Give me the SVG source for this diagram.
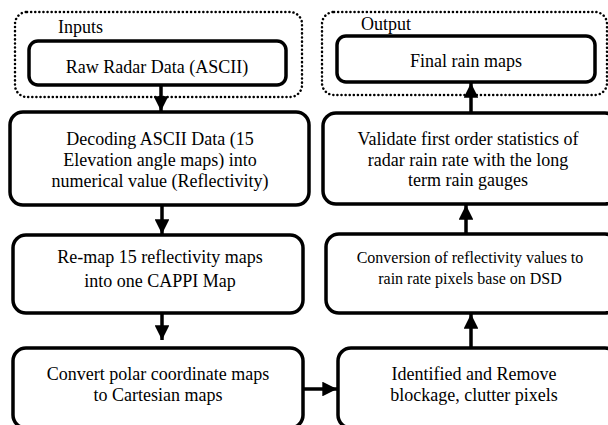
<svg xmlns="http://www.w3.org/2000/svg" width="608" height="425" viewBox="0 0 608 425">
<defs>
<style>
.grp{fill:none;stroke:#000;stroke-width:2.5;stroke-dasharray:0.1 4;stroke-linecap:round}
.box{fill:#fff;stroke:#000;stroke-width:3.5}
text{font-family:'Liberation Serif','DejaVu Serif',serif;font-size:18px;fill:#000}
.t{text-anchor:middle}
.s{font-size:16px}
.c{fill:none;stroke:#000;stroke-width:3.5}
</style>
<marker id="ah" viewBox="0 0 10 10" refX="10" refY="5" markerWidth="4.4" markerHeight="4.2" orient="auto" markerUnits="strokeWidth">
<path d="M0,0 L10,5 L0,10 z" fill="#000"/>
</marker>
</defs>
<g id="inputs-group">
<rect class="grp" x="15" y="12" width="287" height="85" rx="12"/>
<text font-family="Liberation Serif, serif" x="58" y="33">Inputs</text>
</g>
<g id="output-group">
<rect class="grp" x="322" y="12" width="285" height="83" rx="12"/>
<text font-family="Liberation Serif, serif" x="361" y="30">Output</text>
</g>
<g id="raw">
<rect class="box" x="29" y="41" width="257" height="44" rx="9"/>
<text class="t" font-family="Liberation Serif, serif" x="157" y="73">Raw Radar Data (ASCII)</text>
</g>
<g id="final">
<rect class="box" x="337" y="36" width="258" height="46" rx="9"/>
<text class="t" font-family="Liberation Serif, serif" x="466" y="67">Final rain maps</text>
</g>
<g id="decoding" font-family="Liberation Serif, serif">
<rect class="box" x="10" y="112" width="299" height="93" rx="13"/>
<text class="t" x="160" y="145">Decoding ASCII Data (15</text>
<text class="t" x="160" y="166">Elevation angle maps) into</text>
<text class="t" x="160" y="187">numerical value (Reflectivity)</text>
</g>
<g id="validate">
<rect class="box" x="323" y="113" width="295" height="91" rx="13"/>
<text class="t" x="468" y="145">Validate first order statistics of</text>
<text class="t" x="468" y="166">radar rain rate with the long</text>
<text class="t" x="468" y="186">term rain gauges</text>
</g>
<g id="remap">
<rect class="box" x="13" y="235" width="290" height="78" rx="13"/>
<text class="t" x="160" y="263">Re-map 15 reflectivity maps</text>
<text class="t" x="160" y="287">into one CAPPI Map</text>
</g>
<g id="conversion">
<rect class="box" x="326" y="234" width="292" height="79" rx="13"/>
<text class="t s" x="470" y="263">Conversion of reflectivity values to</text>
<text class="t s" x="470" y="284">rain rate pixels base on DSD</text>
</g>
<g id="convert">
<rect class="box" x="13" y="348" width="290" height="80" rx="13"/>
<text class="t" x="158" y="380">Convert polar coordinate maps</text>
<text class="t" x="158" y="401">to Cartesian maps</text>
</g>
<g id="identified">
<rect class="box" x="338" y="348" width="280" height="80" rx="13"/>
<text class="t" x="474" y="380">Identified and Remove</text>
<text class="t" x="474" y="401">blockage, clutter pixels</text>
</g>
<g id="connectors">
<line class="c" x1="161" y1="85" x2="161" y2="111" marker-end="url(#ah)"/>
<line class="c" x1="162" y1="205" x2="162" y2="234" marker-end="url(#ah)"/>
<line class="c" x1="162" y1="313" x2="162" y2="340" marker-end="url(#ah)"/>
<line class="c" x1="303" y1="389" x2="337" y2="389" marker-end="url(#ah)"/>
<line class="c" x1="471" y1="348" x2="471" y2="314" marker-end="url(#ah)"/>
<line class="c" x1="466" y1="234" x2="466" y2="205" marker-end="url(#ah)"/>
<line class="c" x1="471" y1="113" x2="471" y2="83" marker-end="url(#ah)"/>
</g>
</svg>
